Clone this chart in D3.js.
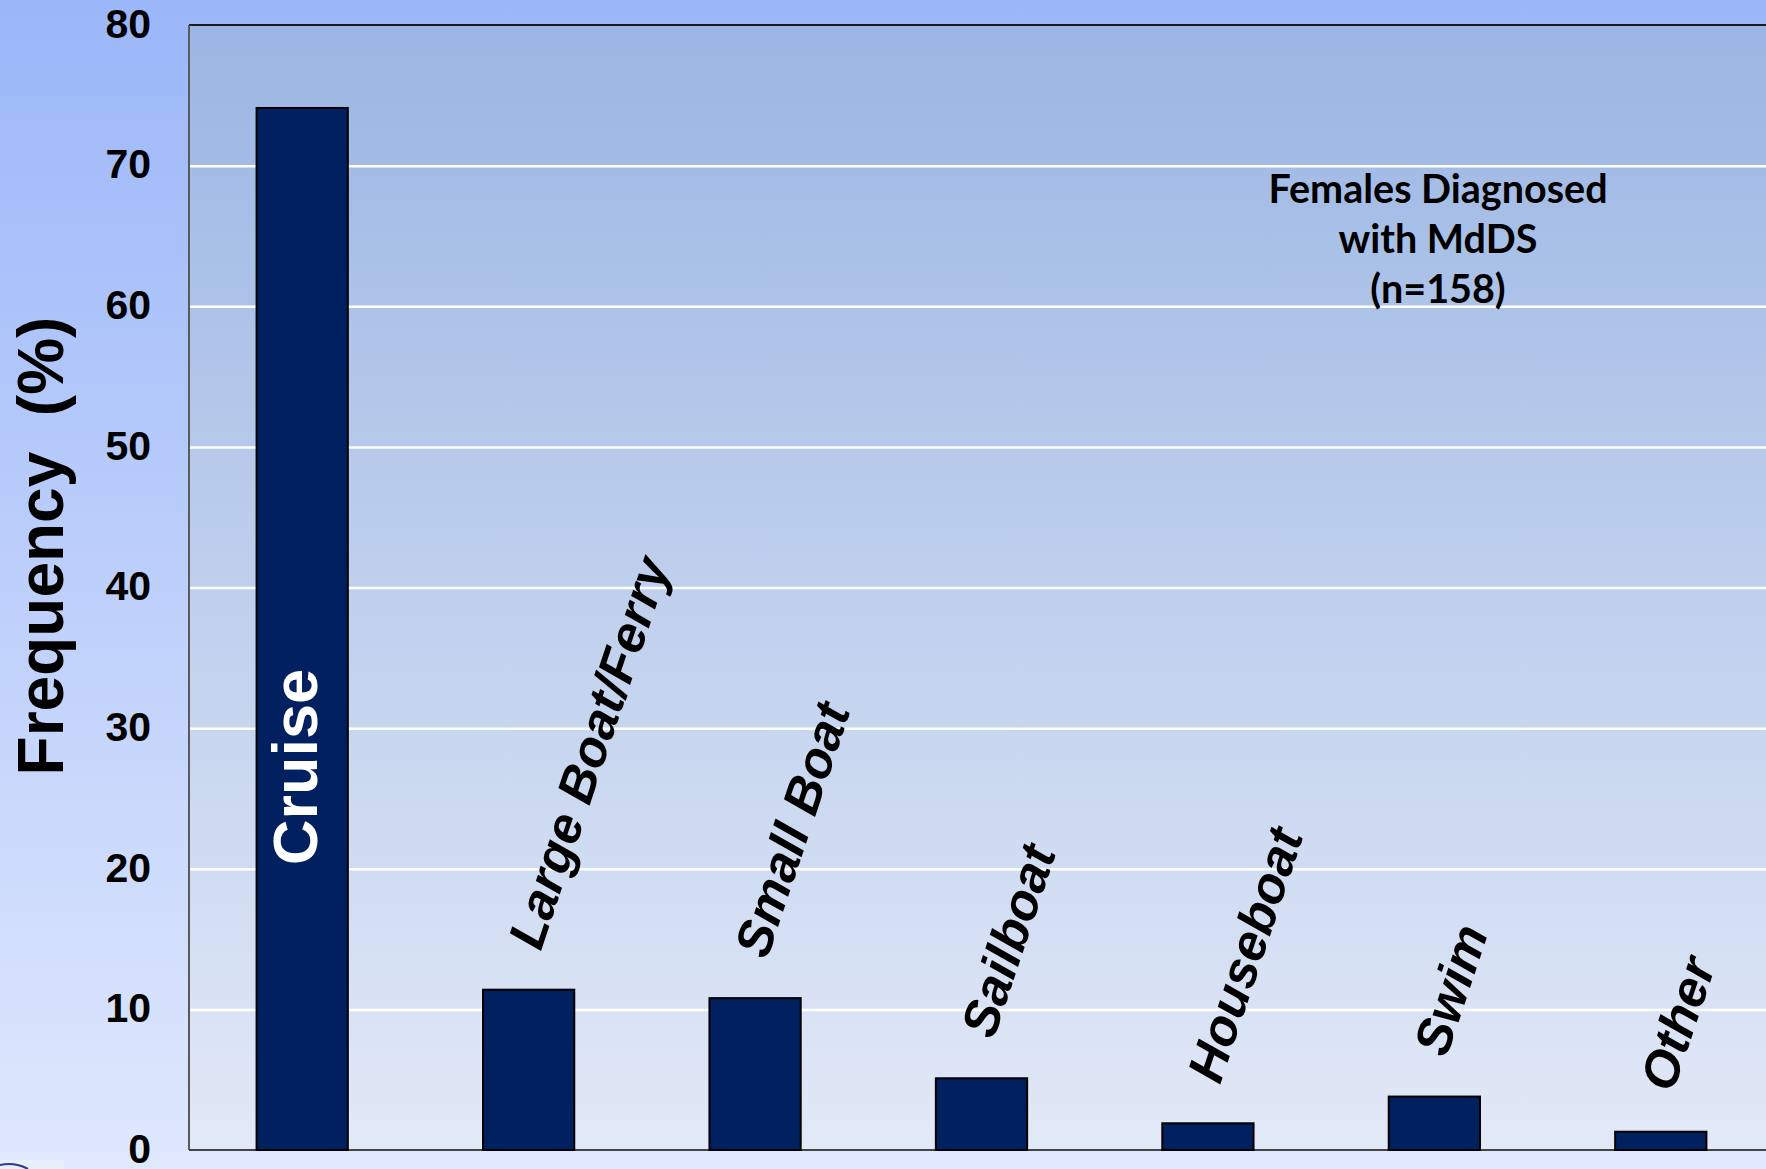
<!DOCTYPE html>
<html>
<head>
<meta charset="utf-8">
<script src="https://cdn.jsdelivr.net/npm/d3@7"></script>
<style>
  html, body { margin: 0; padding: 0; overflow: hidden; }
  svg { display: block; }
</style>
</head>
<body>
<div id="chart"></div>
<script>
// ---- data ----
const categories = ["Cruise", "Large Boat/Ferry", "Small Boat", "Sailboat", "Houseboat", "Swim", "Other"];
const values = [74.1, 11.4, 10.8, 5.1, 1.9, 3.8, 1.3];
const yTicks = [0, 10, 20, 30, 40, 50, 60, 70, 80];
const yTitle = "Frequency\u00a0\u00a0(%)";
const noteLines = ["Females Diagnosed", "with MdDS", "(n=158)"];

// ---- layout ----
const W = 1766, H = 1169;
const plot = { left: 189, right: 1774, top: 25, bottom: 1150 };

const svg = d3.select("#chart").append("svg")
  .attr("width", W).attr("height", H);

const defs = svg.append("defs");
const bgGrad = defs.append("linearGradient").attr("id", "bgGrad")
  .attr("x1", 0).attr("y1", 0).attr("x2", 0).attr("y2", 1);
bgGrad.append("stop").attr("offset", "0%").attr("stop-color", "#9bb7f9");
bgGrad.append("stop").attr("offset", "100%").attr("stop-color", "#dfe8fd");

const plotGrad = defs.append("linearGradient").attr("id", "plotGrad")
  .attr("x1", 0).attr("y1", 0).attr("x2", 0).attr("y2", 1);
plotGrad.append("stop").attr("offset", "0%").attr("stop-color", "#9bb6e3");
plotGrad.append("stop").attr("offset", "100%").attr("stop-color", "#e2e9f7");

svg.append("rect").attr("width", W).attr("height", H).attr("fill", "url(#bgGrad)");

// small logo fragment at bottom-left
svg.append("rect").attr("x", 0).attr("y", 1160).attr("width", 64).attr("height", 9).attr("fill", "#e9eefb");
svg.append("path").attr("d", "M0,1165 Q15,1162 28,1169")
  .attr("fill", "none").attr("stroke", "#2c3b86").attr("stroke-width", 2);

const x = d3.scaleBand().domain(categories)
  .range([plot.left, plot.right]).paddingInner(0.597).paddingOuter(0.2985);
const y = d3.scaleLinear().domain([0, 80]).range([plot.bottom, plot.top]);

// plot area
svg.append("rect")
  .attr("x", plot.left).attr("y", plot.top)
  .attr("width", plot.right - plot.left).attr("height", plot.bottom - plot.top)
  .attr("fill", "url(#plotGrad)");

// gridlines
const grid = svg.append("g")
  .attr("transform", `translate(${plot.left},0)`)
  .call(d3.axisLeft(y).tickValues(yTicks.filter(t => t > 0 && t < 80))
    .tickSize(-(plot.right - plot.left)).tickFormat(""));
grid.select(".domain").remove();
grid.selectAll(".tick line").attr("stroke", "#ffffff").attr("stroke-width", 2.5);

// borders
svg.append("line").attr("x1", plot.left).attr("x2", W).attr("y1", plot.top).attr("y2", plot.top)
  .attr("stroke", "#1a1a1a").attr("stroke-width", 2);
svg.append("line").attr("x1", plot.left).attr("x2", plot.left).attr("y1", plot.top).attr("y2", plot.bottom)
  .attr("stroke", "#5a5a5a").attr("stroke-width", 2);
svg.append("line").attr("x1", plot.left).attr("x2", W).attr("y1", plot.bottom).attr("y2", plot.bottom)
  .attr("stroke", "#444444").attr("stroke-width", 2);

// y axis labels
const yAxis = svg.append("g")
  .attr("transform", `translate(${plot.left},0)`)
  .call(d3.axisLeft(y).tickValues(yTicks).tickSize(0).tickPadding(38));
yAxis.select(".domain").remove();
yAxis.selectAll(".tick text")
  .attr("font-family", "Liberation Sans, Arial, sans-serif")
  .attr("font-weight", "bold").attr("font-size", 41).attr("fill", "#000")
  .attr("dy", "0.3em");

// y title
svg.append("text")
  .attr("transform", `translate(63,546) rotate(-90)`)
  .attr("text-anchor", "middle")
  .attr("font-family", "Liberation Sans, Arial, sans-serif")
  .attr("font-weight", "bold").attr("font-size", 64).attr("fill", "#000")
  .text(yTitle);

// bars
svg.append("g").selectAll("rect").data(categories).join("rect")
  .attr("x", d => x(d))
  .attr("y", (d, i) => y(values[i]))
  .attr("width", x.bandwidth())
  .attr("height", (d, i) => y(0) - y(values[i]))
  .attr("fill", "#00205f")
  .attr("stroke", "#000000").attr("stroke-width", 2);

// category labels
const labels = svg.append("g");
categories.forEach((c, i) => {
  const cx = x(c) + x.bandwidth() / 2;
  if (i === 0) {
    labels.append("text")
      .attr("transform", `translate(${cx + 15},${767}) rotate(-90)`)
      .attr("text-anchor", "middle")
      .attr("font-family", "Liberation Sans, Arial, sans-serif")
      .attr("font-weight", "bold").attr("font-size", 63).attr("fill", "#ffffff")
      .text(c);
  } else {
    labels.append("text")
      .attr("transform", `translate(${cx + 12},${y(values[i]) - 38}) rotate(-71.5)`)
      .attr("text-anchor", "start")
      .attr("font-family", "Liberation Sans, Arial, sans-serif")
      .attr("font-weight", "bold").attr("font-style", "italic")
      .attr("font-size", 51).attr("fill", "#000")
      .text(c);
  }
});

// annotation
const note = svg.append("text")
  .attr("text-anchor", "middle")
  .attr("font-family", "Lato, 'Open Sans', sans-serif")
  .attr("font-weight", "bold").attr("font-size", 39.5).attr("fill", "#000");
noteLines.forEach((t, i) => {
  note.append("tspan").attr("x", 1438).attr("y", 203 + i * 50).text(t);
});
</script>
</body>
</html>
